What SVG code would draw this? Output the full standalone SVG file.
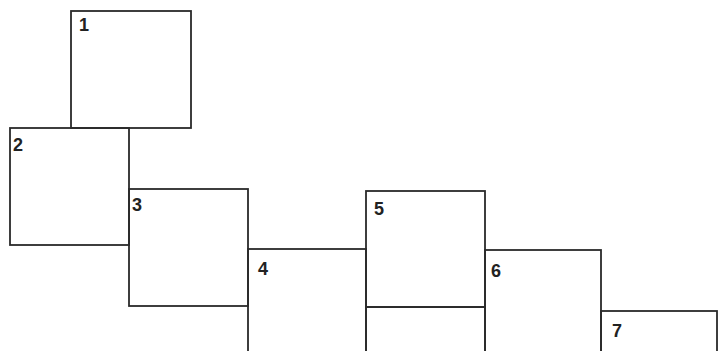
<svg xmlns="http://www.w3.org/2000/svg" width="719" height="351" viewBox="0 0 719 351">
<style>
.box{fill:none;stroke:#2a2a2a;stroke-width:1.8}
.lbl{font-family:"Liberation Sans",Arial,sans-serif;font-weight:bold;font-size:18px;fill:#222}
</style>
<rect width="719" height="351" fill="#fff"/>
<g id="connectors"></g>
<g id="node1"><rect class="box" x="71" y="11" width="120" height="117"/><text class="lbl" x="79" y="31">1</text></g>
<g id="node2"><rect class="box" x="10" y="128" width="119" height="117"/><text class="lbl" x="13" y="151">2</text></g>
<g id="node3"><rect class="box" x="129" y="189" width="119" height="117"/><text class="lbl" x="132" y="211">3</text></g>
<g id="node4"><rect class="box" x="248" y="249" width="118" height="120"/><text class="lbl" x="258" y="275">4</text></g>
<g id="node5"><rect class="box" x="366" y="191" width="119" height="116"/><text class="lbl" x="374" y="215">5</text></g>
<g id="node5b"><rect class="box" x="366" y="307" width="119" height="60"/></g>
<g id="node6"><rect class="box" x="485" y="250" width="116" height="120"/><text class="lbl" x="491" y="277">6</text></g>
<g id="node7"><rect class="box" x="601" y="311" width="116" height="60"/><text class="lbl" x="612" y="337">7</text></g>
</svg>
